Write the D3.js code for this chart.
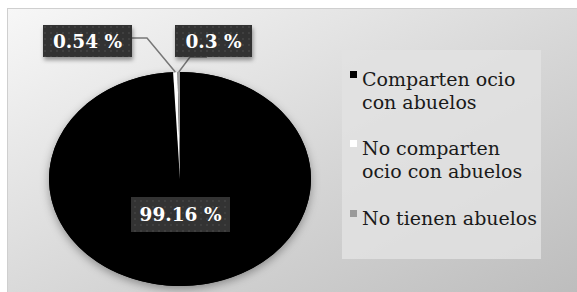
<!DOCTYPE html>
<html>
<head>
<meta charset="utf-8">
<script src="https://cdn.jsdelivr.net/npm/d3@7"></script>
<style>
  body { margin: 0; background: #ffffff; }
  svg { display: block; }
</style>
</head>
<body>
<svg id="chart"></svg>
<script>
// Data
var categories = ["Comparten ocio con abuelos", "No comparten ocio con abuelos", "No tienen abuelos"];
var values = [99.16, 0.54, 0.3];
var labelTexts = ["99.16 %", "0.54 %", "0.3 %"];
var legendLines = [["Comparten ocio", "con abuelos"], ["No comparten", "ocio con abuelos"], ["No tienen abuelos"]];
var colors = ["#000000", "#ffffff", "#9a9a9a"];

var dimensions = {
    width: 577,
    height: 292,
    cx: 180,
    cy: 179,
    rx: 131,
    ry: 107
};

var svg = d3.select("#chart")
    .attr("width", dimensions.width)
    .attr("height", dimensions.height);

var defs = svg.append("defs");

// background gradient
var bg = defs.append("linearGradient")
    .attr("id", "bgGrad")
    .attr("x1", "0%").attr("y1", "0%")
    .attr("x2", "100%").attr("y2", "100%");
bg.append("stop").attr("offset", "0%").attr("stop-color", "#f7f7f7");
bg.append("stop").attr("offset", "55%").attr("stop-color", "#d6d6d6");
bg.append("stop").attr("offset", "100%").attr("stop-color", "#bcbcbc");

// dotted pattern for label boxes
var pat = defs.append("pattern")
    .attr("id", "dots")
    .attr("width", 6).attr("height", 6)
    .attr("patternUnits", "userSpaceOnUse");
pat.append("rect").attr("width", 6).attr("height", 6).attr("fill", "#333333");
pat.append("circle").attr("cx", 3).attr("cy", 3).attr("r", 0.8).attr("fill", "#4d4d4d");

var shadow = defs.append("filter").attr("id", "shadow")
    .attr("x", "-20%").attr("y", "-20%").attr("width", "140%").attr("height", "150%");
shadow.append("feDropShadow")
    .attr("dx", 0).attr("dy", 3).attr("stdDeviation", 4)
    .attr("flood-color", "#000").attr("flood-opacity", 0.35);

var boxShadow = defs.append("filter").attr("id", "boxShadow")
    .attr("x", "-20%").attr("y", "-30%").attr("width", "140%").attr("height", "170%");
boxShadow.append("feDropShadow")
    .attr("dx", 1).attr("dy", 3).attr("stdDeviation", 2)
    .attr("flood-color", "#000").attr("flood-opacity", 0.4);

// chart area
svg.append("rect")
    .attr("x", 7.5).attr("y", 8.5)
    .attr("width", dimensions.width)
    .attr("height", dimensions.height)
    .attr("fill", "url(#bgGrad)")
    .attr("stroke", "#cfcfcf")
    .attr("stroke-width", 1);

// pie
var pie = d3.pie().sort(null).value(d => d);
var arcs = pie(values);
var arc = d3.arc().innerRadius(0).outerRadius(dimensions.ry);

var pieG = svg.append("g")
    .attr("transform", `translate(${dimensions.cx},${dimensions.cy}) scale(${dimensions.rx / dimensions.ry},1)`);

pieG.append("ellipse")
    .attr("rx", dimensions.ry).attr("ry", dimensions.ry)
    .attr("fill", "#000")
    .attr("filter", "url(#shadow)");

pieG.selectAll("path")
    .data(arcs)
    .enter()
    .append("path")
    .attr("d", arc)
    .attr("fill", (d, i) => colors[i])
    .attr("stroke", "none");

// point on the ellipse edge for a slice
function edgePoint(d) {
    var a = (d.startAngle + d.endAngle) / 2;
    return [dimensions.cx + Math.sin(a) * dimensions.rx, dimensions.cy - Math.cos(a) * dimensions.ry];
}

// label boxes (layout)
var labelBoxes = [
    { x: 131, y: 197, w: 99, h: 35 },
    { x: 43, y: 25, w: 89, h: 32 },
    { x: 175, y: 25, w: 77, h: 32 }
];

// leader lines for small slices
var p1 = edgePoint(arcs[1]);
var p2 = edgePoint(arcs[2]);
var leaders = [
    [[132, 38], [147, 38], p1],
    [[207, 57], [190, 57], p2]
];
svg.selectAll(".leader")
    .data(leaders)
    .enter()
    .append("path")
    .attr("class", "leader")
    .attr("d", d3.line())
    .attr("fill", "none")
    .attr("stroke", "#777777")
    .attr("stroke-width", 1.5);

var lab = svg.selectAll(".lab")
    .data(labelTexts)
    .enter()
    .append("g")
    .attr("class", "lab");

lab.append("rect")
    .attr("x", (d, i) => labelBoxes[i].x)
    .attr("y", (d, i) => labelBoxes[i].y)
    .attr("width", (d, i) => labelBoxes[i].w)
    .attr("height", (d, i) => labelBoxes[i].h)
    .attr("fill", "url(#dots)")
    .attr("filter", (d, i) => i == 0 ? null : "url(#boxShadow)");

lab.append("text")
    .attr("x", (d, i) => labelBoxes[i].x + labelBoxes[i].w / 2)
    .attr("y", (d, i) => labelBoxes[i].y + labelBoxes[i].h / 2)
    .attr("dy", "0.36em")
    .attr("text-anchor", "middle")
    .attr("font-family", "DejaVu Serif")
    .attr("font-weight", "bold")
    .attr("font-size", "18.5px")
    .attr("fill", "#ffffff")
    .text(d => d);

// legend
svg.append("rect")
    .attr("x", 342).attr("y", 50)
    .attr("width", 199).attr("height", 209)
    .attr("fill", "#e2e2e2")
    .attr("opacity", 0.85);

var legendTops = [86, 155, 225];
var legend = svg.selectAll(".legend")
    .data(categories)
    .enter()
    .append("g")
    .attr("class", "legend")
    .attr("transform", (d, i) => `translate(350, ${legendTops[i]})`);

legend.append("rect")
    .attr("x", 0)
    .attr("y", -15)
    .attr("width", 7)
    .attr("height", 7)
    .attr("fill", (d, i) => colors[i]);

legend.append("text")
    .attr("x", 12)
    .attr("font-family", "DejaVu Serif")
    .attr("font-size", "19px")
    .attr("fill", "#1a1a1a")
    .each(function(d, i) {
        d3.select(this).selectAll("tspan")
            .data(legendLines[i])
            .enter()
            .append("tspan")
            .attr("x", 12)
            .attr("dy", (t, j) => j == 0 ? 0 : 23)
            .text(t => t);
    });
</script>
</body>
</html>
